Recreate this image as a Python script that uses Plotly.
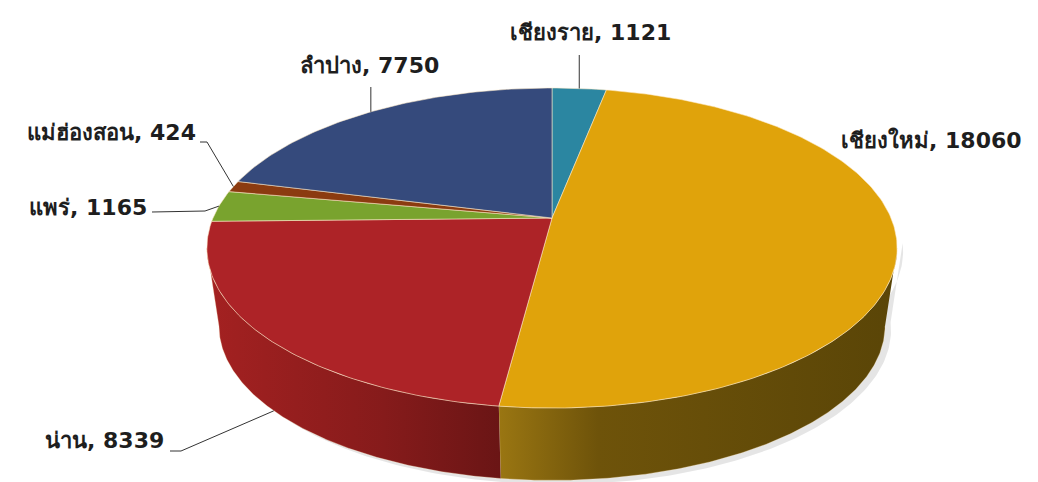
import numpy as np
import plotly.graph_objects as go

# ---- data ----
provinces = ["เชียงราย", "เชียงใหม่", "น่าน", "แพร่", "แม่ฮ่องสอน", "ลำปาง"]
counts = [1121, 18060, 8339, 1165, 424, 7750]

# ---- styles ----
top_colors = ["#2b86a1", "#e0a30b", "#ad2327", "#79a32e", "#8b3b10", "#354a7c"]
side_scales = {
    1: [[0, "#9a7612"], [0.25, "#6e530a"], [1, "#5a4507"]],
    2: [[0, "#a42121"], [0.6, "#861b1b"], [1, "#6a1515"]],
}

# pie geometry (pixel space, perspective-projected disk)
W, H = 1038, 482
CX, CY = 552, 218          # projected center of the top face
A, B, K = 339, 154.4, 0.1875
S_BOT, CY_BOT = 0.965, 297  # bottom rim circle

def proj(theta, bottom=False):
    u = np.sin(theta)
    v = -np.cos(theta)
    w = 1 - K * v
    s = S_BOT if bottom else 1.0
    cy = CY_BOT if bottom else CY
    return CX + A * s * u / w, cy + B * s * v / w

vals = np.array(counts, dtype=float)
frac = vals / vals.sum()
ends = np.cumsum(frac) * 2 * np.pi
starts = ends - frac * 2 * np.pi
mids = (starts + ends) / 2

fig = go.Figure()

# silhouette of the visible side wall
sil_a = np.arccos(-K)
sil_b = 2 * np.pi - sil_a

# soft shadow behind side wall
th = np.linspace(sil_a - 0.05, sil_b + 0.05, 200)
xt, yt = proj(th)
xb, yb = proj(th[::-1], bottom=True)
fig.add_trace(go.Scatter(x=np.r_[xt + 6, xb + 6], y=np.r_[yt + 3, yb + 4], fill="toself",
                         fillcolor="rgba(0,0,0,0.10)", line=dict(width=0),
                         mode="lines", hoverinfo="skip", showlegend=False))

# side walls
for i in range(len(vals)):
    a = max(starts[i], sil_a)
    b = min(ends[i], sil_b)
    if b <= a:
        continue
    th = np.linspace(a, b, 200)
    xt, yt = proj(th)
    xb, yb = proj(th[::-1], bottom=True)
    fig.add_trace(go.Scatter(
        x=np.r_[xt, xb], y=np.r_[yt, yb], fill="toself",
        fillgradient=dict(type="horizontal", colorscale=side_scales.get(i, [[0, top_colors[i]], [1, top_colors[i]]])),
        line=dict(width=0.6, color="rgba(255,230,190,0.5)"),
        mode="lines", hoverinfo="skip", showlegend=False))

# top faces
for i in range(len(vals)):
    th = np.linspace(starts[i], ends[i], max(int(frac[i] * 400), 8))
    xs, ys = proj(th)
    fig.add_trace(go.Scatter(
        x=np.r_[CX, xs, CX], y=np.r_[CY, ys, CY], fill="toself",
        fillcolor=top_colors[i], line=dict(width=1, color="rgba(255,235,200,0.55)"),
        mode="lines", hoverinfo="skip", showlegend=False))

# labels with leader lines
label_font = dict(family="'DejaVu Sans', Arial, sans-serif", size=22, color="#1e1e1e")
label_cfg = {
    0: dict(x=590, y=32, xanchor="center", lead=lambda rx, ry: [(rx, 55)]),
    1: dict(x=931, y=140, xanchor="center", lead=None),
    2: dict(x=166, y=440, xanchor="right", lead=lambda rx, ry: [(170, 451), (181, 451)], bottom=True),
    3: dict(x=149, y=207, xanchor="right", lead=lambda rx, ry: [(152, 212), (205, 211)]),
    4: dict(x=198, y=132, xanchor="right", lead=lambda rx, ry: [(200, 142), (207, 142)]),
    5: dict(x=369, y=65, xanchor="center", lead=lambda rx, ry: [(rx, 87)]),
}
for i, name in enumerate(provinces):
    cfg = label_cfg[i]
    fig.add_annotation(x=cfg["x"], y=cfg["y"], xref="x", yref="y",
                       text=f"<b>{name}, {counts[i]}</b>", showarrow=False,
                       xanchor=cfg["xanchor"], yanchor="middle", font=label_font)
    if cfg["lead"] is not None:
        rx, ry = proj(mids[i], bottom=cfg.get("bottom", False))
        pts = cfg["lead"](rx, ry) + [(rx, ry)]
        fig.add_trace(go.Scatter(x=[p[0] for p in pts], y=[p[1] for p in pts],
                                 mode="lines", line=dict(color="#333333", width=1),
                                 hoverinfo="skip", showlegend=False))

fig.update_layout(
    width=W, height=H, margin=dict(l=0, r=0, t=0, b=0),
    paper_bgcolor="white", plot_bgcolor="white",
    xaxis=dict(range=[0, W], visible=False, fixedrange=True),
    yaxis=dict(range=[H, 0], visible=False, fixedrange=True),
)
fig.write_html("out.html")
